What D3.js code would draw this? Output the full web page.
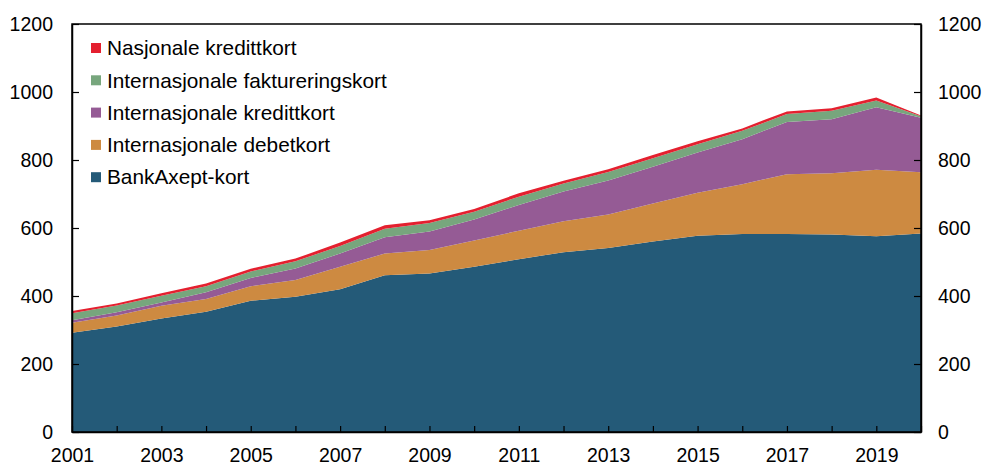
<!DOCTYPE html>
<html>
<head>
<meta charset="utf-8">
<script src="https://cdn.jsdelivr.net/npm/d3@7"></script>
<style>
  body { margin: 0; background: #fff; }
  svg { display: block; font-family: "Liberation Sans", Arial, sans-serif; }
</style>
</head>
<body>
<svg width="987" height="463"></svg>
<script>
// years on the x axis
const years = d3.range(2001, 2021);

// series values (mill. transactions), stacked bottom to top
const bankAxept = [292, 310, 334, 354, 386, 398, 420, 461, 466, 486, 508, 529, 541, 560, 577, 582, 582, 581, 576, 584];
const intDebet = [29, 33, 37, 37, 43, 49, 66, 64, 69, 77, 84, 91, 99, 112, 127, 147, 176, 180, 195, 180];
const intKreditt = [8, 9, 10, 20, 24, 34, 39, 48, 55, 62, 76, 87, 100, 108, 118, 132, 154, 159, 184, 160];
const intFakt = [20, 20, 20, 18, 19, 21, 22, 25, 25, 23, 24, 24, 25, 25, 24, 25, 23, 25, 20, 5];
const nasKreditt = [7, 6, 7, 8, 8, 8, 10, 10, 8, 8, 10, 8, 8, 10, 9, 7, 8, 7, 9, 2];

const seriesNames = ["BankAxept-kort", "Internasjonale debetkort", "Internasjonale kredittkort",
  "Internasjonale faktureringskort", "Nasjonale kredittkort"];
const seriesValues = [bankAxept, intDebet, intKreditt, intFakt, nasKreditt];
const colors = ["#245a78", "#cd8a41", "#955b95", "#77a67d", "#e4202f"];

const yTicks = [0, 200, 400, 600, 800, 1000, 1200];

const width = 987;
const height = 463;
const margin = { top: 24, right: 66, bottom: 31, left: 72 };

const rows = years.map((y, i) => {
  const r = { year: y };
  seriesNames.forEach((n, k) => r[n] = seriesValues[k][i]);
  return r;
});

const stacked = d3.stack().keys(seriesNames)(rows);

const x = d3.scaleLinear()
  .domain([2001, 2020])
  .range([margin.left, width - margin.right]);

const y = d3.scaleLinear()
  .domain([0, 1200])
  .range([height - margin.bottom, margin.top]);

const svg = d3.select("svg");

const area = d3.area()
  .x(d => x(d.data.year))
  .y0(d => y(d[0]))
  .y1(d => y(d[1]));

svg.append("g")
  .selectAll("path")
  .data(stacked)
  .enter()
  .append("path")
  .attr("d", area)
  .attr("fill", (d, i) => colors[i]);

// frame
svg.append("rect")
  .attr("x", margin.left)
  .attr("y", margin.top)
  .attr("width", width - margin.left - margin.right)
  .attr("height", height - margin.top - margin.bottom)
  .attr("fill", "none")
  .attr("stroke", "#000")
  .attr("stroke-width", 1.5);

const xAxis = svg.append("g")
  .attr("transform", `translate(0,${height - margin.bottom})`)
  .call(d3.axisBottom(x)
    .tickValues(years)
    .tickSizeInner(-6)
    .tickSizeOuter(0)
    .tickPadding(16)
    .tickFormat(d => (d % 2 === 1 ? String(d) : "")));

const yLeft = svg.append("g")
  .attr("transform", `translate(${margin.left},0)`)
  .call(d3.axisLeft(y)
    .tickValues(yTicks)
    .tickSizeInner(-7)
    .tickSizeOuter(0)
    .tickPadding(19)
    .tickFormat(d3.format("d")));

const yRight = svg.append("g")
  .attr("transform", `translate(${width - margin.right},0)`)
  .call(d3.axisRight(y)
    .tickValues(yTicks)
    .tickSizeInner(-7)
    .tickSizeOuter(0)
    .tickPadding(17)
    .tickFormat(d3.format("d")));

[xAxis, yLeft, yRight].forEach(g => {
  g.select(".domain").attr("stroke", "#000").attr("stroke-width", 1.5);
  g.selectAll(".tick line").attr("stroke", "#000").attr("stroke-width", 1.2);
  g.selectAll("text")
    .attr("fill", "#000")
    .style("font-size", "19.5px")
    .style("font-family", "'Liberation Sans', Arial, sans-serif");
});

// legend, top item first
const legend = svg.append("g")
  .selectAll("g")
  .data(seriesNames.map((n, i) => ({ name: n, color: colors[i] })).reverse())
  .enter()
  .append("g")
  .attr("transform", (d, i) => `translate(91,${48 + i * 32.3})`);

legend.append("rect")
  .attr("x", 0)
  .attr("y", -5)
  .attr("width", 10)
  .attr("height", 10)
  .attr("fill", d => d.color);

legend.append("text")
  .attr("x", 16)
  .attr("y", 0)
  .attr("dy", "0.35em")
  .text(d => d.name)
  .style("font-size", "20.8px")
  .style("fill", "#000");
</script>
</body>
</html>
